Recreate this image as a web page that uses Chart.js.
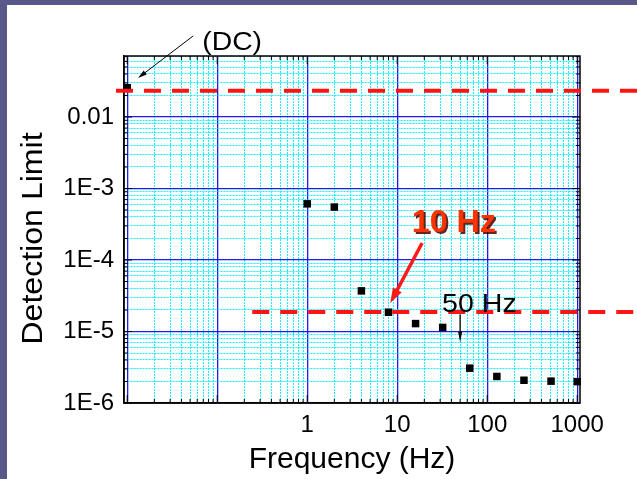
<!DOCTYPE html>
<html>
<head>
<meta charset="utf-8">
<script src="https://cdn.jsdelivr.net/npm/chart.js@4"></script>
<style>
  html, body { margin: 0; padding: 0; }
  body { width: 637px; height: 479px; background: #58588a; position: relative; overflow: hidden; }
  #slide { position: absolute; left: 7px; top: 5px; right: 0; bottom: 0; background: #fff; }
  #chart { position: absolute; left: 0; top: 0; }
</style>
</head>
<body>
<div id="slide"></div>
<canvas id="chart" width="637" height="479"></canvas>
<script>
// measured points; the first one is DC, plotted on the left edge of the axis
const freqHz = [0.01, 1, 2, 4, 8, 16, 32, 64, 128, 256, 512, 1000];
const detectionLimit = [0.0257, 6.1e-4, 5.5e-4, 3.7e-5, 1.86e-5, 1.29e-5, 1.14e-5, 3.07e-6, 2.35e-6, 2.08e-6, 2.02e-6, 1.99e-6];

// labelled decades
const xLabelValues = [1, 10, 100, 1000];
const xLabelText = ['1', '10', '100', '1000'];
const yLabelValues = [1e-6, 1e-5, 1e-4, 1e-3, 0.01];
const yLabelText = ['1E-6', '1E-5', '1E-4', '1E-3', '0.01'];

// red dashed limit lines: level and the frequency where each starts
const limitLevel = [0.0233, 1.88e-5];
const limitStartHz = [0.0075, 0.245];

const fontFam = '"Liberation Sans", Arial, sans-serif';

function isDecade(v) {
  const l = Math.log10(v);
  return Math.abs(l - Math.round(l)) < 1e-6;
}

function labelFor(v, vals, texts) {
  const i = vals.findIndex(t => Math.abs(Math.log10(t) - Math.log10(v)) < 1e-6);
  return i < 0 ? '' : texts[i];
}

// 1..9 x 10^n inside [min, max]
function logTicks(min, max) {
  const out = [];
  for (let e = Math.floor(Math.log10(min)); e <= Math.ceil(Math.log10(max)); e++) {
    for (let s = 1; s <= 9; s++) {
      const v = +(s * Math.pow(10, e)).toPrecision(6);
      if (v >= min && v <= max) out.push({ value: v });
    }
  }
  return out;
}

const gridOpts = {
  drawTicks: false,
  color: c => (c.tick && isDecade(c.tick.value)) ? '#1d1df2' : '#14f2ff',
  lineWidth: c => (c.tick && isDecade(c.tick.value)) ? 1.3 : 1
};
const borderOpts = {
  color: '#000',
  width: 1.5,
  dash: c => (c.tick && !isDecade(c.tick.value)) ? [2, 1] : []
};

function arrow(ctx, x1, y1, x2, y2, len, wid, color, lw) {
  const a = Math.atan2(y2 - y1, x2 - x1);
  ctx.save();
  ctx.strokeStyle = color;
  ctx.fillStyle = color;
  ctx.lineWidth = lw;
  ctx.beginPath();
  ctx.moveTo(x1, y1);
  ctx.lineTo(x2 - Math.cos(a) * len * 0.8, y2 - Math.sin(a) * len * 0.8);
  ctx.stroke();
  ctx.translate(x2, y2);
  ctx.rotate(a);
  ctx.beginPath();
  ctx.moveTo(0, 0);
  ctx.lineTo(-len, wid / 2);
  ctx.lineTo(-len, -wid / 2);
  ctx.closePath();
  ctx.fill();
  ctx.restore();
}

function text(ctx, str, x, y, font, color, sx) {
  ctx.save();
  ctx.translate(x, y);
  ctx.scale(sx, 1);
  ctx.font = font;
  ctx.fillStyle = color;
  ctx.textAlign = 'center';
  ctx.textBaseline = 'alphabetic';
  ctx.fillText(str, 0, 0);
  ctx.restore();
}

// frame with inward tick marks on all four sides
const frameTicks = {
  id: 'frameTicks',
  beforeDatasetsDraw(chart) {
    const { ctx, chartArea: a, scales: { x, y } } = chart;
    ctx.save();
    ctx.strokeStyle = '#000';
    ctx.lineWidth = 1;
    ctx.beginPath();
    x.ticks.forEach(t => {
      const px = x.getPixelForValue(t.value);
      const l = isDecade(t.value) ? 8 : 4;
      ctx.moveTo(px, a.bottom); ctx.lineTo(px, a.bottom - l);
      ctx.moveTo(px, a.top); ctx.lineTo(px, a.top + l);
    });
    y.ticks.forEach(t => {
      const py = y.getPixelForValue(t.value);
      const l = isDecade(t.value) ? 8 : 4;
      ctx.moveTo(a.left, py); ctx.lineTo(a.left + l, py);
      ctx.moveTo(a.right, py); ctx.lineTo(a.right - l, py);
    });
    ctx.stroke();
    ctx.lineWidth = 1.5;
    ctx.strokeRect(a.left, a.top, a.right - a.left, a.bottom - a.top);
    ctx.restore();
  },
  afterDatasetsDraw(chart) {
    const { ctx, width, scales: { x, y } } = chart;
    const px = (xv, yv) => [x.getPixelForValue(xv), y.getPixelForValue(yv)];

    // limit lines
    ctx.save();
    ctx.strokeStyle = '#ff1414';
    ctx.lineWidth = 4;
    ctx.setLineDash([17, 11]);
    limitLevel.forEach((lv, i) => {
      const [x0, y0] = px(limitStartHz[i], lv);
      ctx.beginPath();
      ctx.moveTo(x0, y0);
      ctx.lineTo(width, y0);
      ctx.stroke();
    });
    ctx.restore();

    // (DC)
    let p = px(0.1465, 0.119);
    text(ctx, '(DC)', p[0], 49.5, '26px ' + fontFam, '#000', 1.09);
    let a1 = px(0.054, 0.136), a2 = px(0.0132, 0.0351);
    arrow(ctx, a1[0], a1[1], a2[0], a2[1], 9, 5, '#000', 1);

    // 10 Hz
    p = px(42.6, 2.43e-4);
    ctx.save();
    ctx.shadowColor = 'rgba(70,0,0,0.85)';
    ctx.shadowOffsetX = 2;
    ctx.shadowOffsetY = 2;
    text(ctx, '10 Hz', p[0], p[1], 'bold 31px ' + fontFam, '#ff3300', 1.04);
    ctx.restore();
    a1 = px(18.9, 1.73e-4); a2 = px(8.38, 2.5e-5);
    arrow(ctx, a1[0], a1[1], a2[0], a2[1], 15, 10, '#ff1a1a', 3.5);

    // 50 Hz
    p = px(81.9, 1.9e-5);
    text(ctx, '50 Hz', p[0], p[1], '26px ' + fontFam, '#000', 1.1);
    a1 = px(50, 1.73e-5); a2 = px(50, 7.0e-6);
    arrow(ctx, a1[0], a1[1], a2[0], a2[1], 11, 4, '#000', 1.3);

    // y title
    ctx.save();
    ctx.translate(41.7, 238.5);
    ctx.rotate(-Math.PI / 2);
    ctx.scale(1.07, 1);
    ctx.font = '30px ' + fontFam;
    ctx.fillStyle = '#000';
    ctx.textAlign = 'center';
    ctx.textBaseline = 'alphabetic';
    ctx.fillText('Detection Limit', 0, 0);
    ctx.restore();
  }
};

new Chart(document.getElementById('chart'), {
  type: 'scatter',
  data: {
    datasets: [{
      data: freqHz.map((f, i) => ({ x: f, y: detectionLimit[i] })),
      pointStyle: 'rect',
      pointRadius: 5.3,
      pointHoverRadius: 5.3,
      backgroundColor: '#000',
      borderWidth: 0,
      clip: false
    }]
  },
  options: {
    responsive: false,
    animation: false,
    layout: { padding: { top: 56, right: 57, left: 0, bottom: 0 } },
    plugins: { legend: { display: false }, tooltip: { enabled: false } },
    scales: {
      x: {
        type: 'logarithmic',
        min: 0.00921,
        max: 1074,
        afterBuildTicks: s => { s.ticks = logTicks(s.min, s.max); },
        afterFit: s => { s.height = 76; },
        grid: gridOpts,
        border: borderOpts,
        ticks: {
          autoSkip: false,
          maxRotation: 0,
          padding: 8,
          color: '#000',
          font: { family: fontFam, size: 24 },
          callback: v => labelFor(v, xLabelValues, xLabelText)
        },
        title: {
          display: true,
          text: 'Frequency (Hz)',
          color: '#000',
          font: { family: fontFam, size: 30 },
          padding: { top: 0, bottom: 1 }
        }
      },
      y: {
        type: 'logarithmic',
        min: 1e-6,
        max: 0.0713,
        afterBuildTicks: s => { s.ticks = logTicks(s.min, s.max); },
        afterFit: s => { s.width = 124; },
        grid: gridOpts,
        border: borderOpts,
        ticks: {
          autoSkip: false,
          padding: 10,
          color: '#000',
          font: { family: fontFam, size: 24 },
          callback: v => labelFor(v, yLabelValues, yLabelText)
        }
      }
    }
  },
  plugins: [frameTicks]
});
</script>
</body>
</html>
